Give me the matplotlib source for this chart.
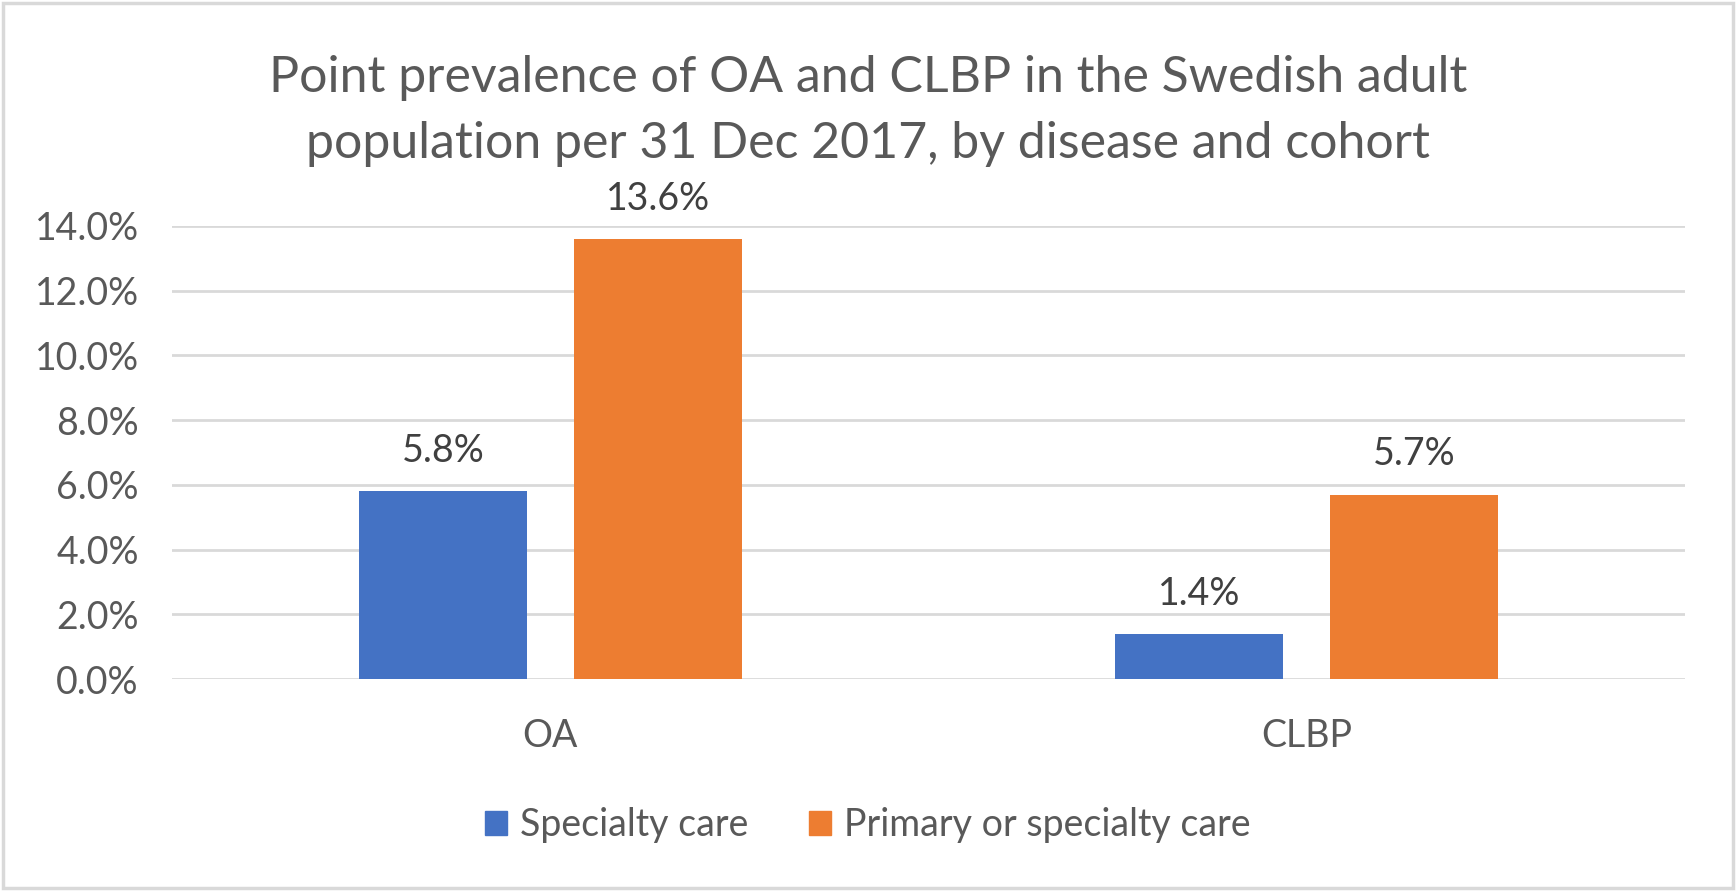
import numpy as np
import matplotlib.pyplot as plt
from matplotlib.patches import Patch
from matplotlib.ticker import FuncFormatter

plt.rcParams['font.family'] = ['Lato', 'DejaVu Sans']

categories = ['OA', 'CLBP']
series_names = ['Specialty care', 'Primary or specialty care']
specialty = [0.058, 0.014]
primary_or_specialty = [0.136, 0.057]
colors = ['#4472C4', '#ED7D31']

fig = plt.figure(figsize=(17.36, 8.91), dpi=100)
ax = fig.add_axes([0.0991, 0.2379, 0.8715, 0.5085])

x = np.arange(len(categories))
width = 0.222
offset = 0.142
for vals, off, col in [(specialty, -offset, colors[0]), (primary_or_specialty, offset, colors[1])]:
    bars = ax.bar(x + off, vals, width=width, color=col, zorder=3)
    for b, v in zip(bars, vals):
        ax.annotate('{:.1f}%'.format(v * 100), (b.get_x() + b.get_width() / 2, v),
                    xytext=(0, 16), textcoords='offset points', ha='center', va='bottom',
                    fontsize=27, color='#404040', annotation_clip=False)

ax.set_xlim(-0.5, 1.5)
ax.set_ylim(0, 0.14)
ax.set_yticks(np.arange(0, 0.141, 0.02))
ax.yaxis.set_major_formatter(FuncFormatter(lambda v, p: '{:.1f}%'.format(v * 100)))
ax.set_xticks(x)
ax.set_xticklabels(categories)
ax.tick_params(axis='both', length=0, labelsize=27, colors='#595959')
ax.tick_params(axis='x', pad=28)
ax.tick_params(axis='y', pad=24)
ax.grid(axis='y', color='#D9D9D9', linewidth=2, zorder=0)
for s in ax.spines.values():
    s.set_visible(False)

fig.text(0.5, 0.913, 'Point prevalence of OA and CLBP in the Swedish adult',
         ha='center', va='center', fontsize=36, color='#595959')
fig.text(0.5, 0.838, 'population per 31 Dec 2017, by disease and cohort',
         ha='center', va='center', fontsize=36, color='#595959')

handles = [Patch(color=c) for c in colors]
fig.legend(handles, series_names, loc='center', bbox_to_anchor=(0.5, 0.074), ncol=2,
           frameon=False, fontsize=27, labelcolor='#595959', handlelength=0.6,
           handleheight=0.6, handletextpad=0.35, columnspacing=1.6)

# light frame around the chart
fig.patches.append(plt.Rectangle((0.002, 0.003), 0.996, 0.994, transform=fig.transFigure,
                                 fill=False, edgecolor='#D9D9D9', linewidth=2.5))

fig.savefig('out.png', dpi=100)
